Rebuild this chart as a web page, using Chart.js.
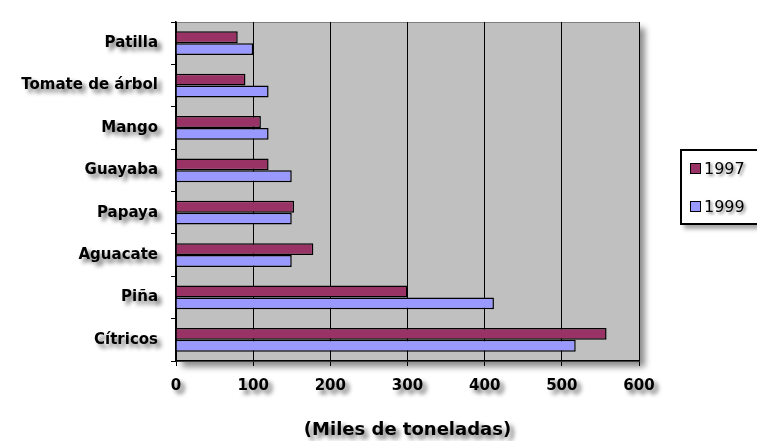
<!DOCTYPE html>
<html>
<head>
<meta charset="utf-8">
<script src="https://cdn.jsdelivr.net/npm/chart.js@4/dist/chart.umd.min.js"></script>
<style>
  body { margin: 0; background: #fff; }
  #wrap { position: relative; width: 757px; height: 441px; }
  #legend {
    position: absolute; left: 680px; top: 149px; width: 90px; height: 72px;
    border: 2px solid #000; border-right: none; background: #fff;
    box-shadow: 4px 4px 4px rgba(0,0,0,0.35);
    font: 16px "DejaVu Sans", sans-serif;
  }
  .item { position: absolute; left: 8px; display: flex; align-items: center;
    text-shadow: 2px 2px 3px rgba(0,0,0,0.45); }
  .sw { width: 9px; height: 9px; border: 1px solid #000; margin-right: 3px; }
</style>
</head>
<body>
<div id="wrap">
  <canvas id="chart" width="757" height="441"></canvas>
  <div id="legend"></div>
</div>
<script>
// data
const categories = ["Patilla", "Tomate de árbol", "Mango", "Guayaba", "Papaya", "Aguacate", "Piña", "Cítricos"];
const values1997 = [80, 90, 110, 120, 153, 178, 300, 558];
const values1999 = [100, 120, 120, 150, 150, 150, 412, 518];
const seriesNames = ["1997", "1999"];
const xTicks = [0, 100, 200, 300, 400, 500, 600];

const colors = ["#993366", "#9999FF"];

// legend
const legend = document.getElementById("legend");
seriesNames.forEach((name, i) => {
  const div = document.createElement("div");
  div.className = "item";
  div.style.top = (i === 0 ? 8 : 46) + "px";
  div.innerHTML = `<span class="sw" style="background:${colors[i]}"></span>${name}`;
  legend.appendChild(div);
});

// gray plot area with drop shadow, plus shadowed text
const plotBg = {
  id: "plotBg",
  beforeDraw(chart) {
    const { ctx, chartArea: a } = chart;
    ctx.save();
    ctx.fillStyle = "rgba(0,0,0,0.45)";
    ctx.filter = "blur(3px)";
    ctx.fillRect(a.left + 6, a.top + 6, a.right - a.left, a.bottom - a.top);
    ctx.filter = "none";
    ctx.fillStyle = "#C0C0C0";
    ctx.fillRect(a.left, a.top, a.right - a.left, a.bottom - a.top);
    ctx.strokeStyle = "#808080";
    ctx.lineWidth = 1;
    ctx.strokeRect(a.left + 0.5, a.top + 0.5, a.right - a.left, a.bottom - a.top);
    ctx.restore();
  },
  afterLayout(chart) {
    Object.values(chart.scales).forEach(s => {
      if (s._shadowed) return;
      s._shadowed = true;
      ["drawLabels", "drawTitle"].forEach(fn => {
        const orig = s[fn].bind(s);
        s[fn] = function (area) {
          const ctx = chart.ctx;
          ctx.save();
          ctx.shadowColor = "rgba(0,0,0,0.55)";
          ctx.shadowBlur = 4;
          ctx.shadowOffsetX = 4;
          ctx.shadowOffsetY = 4;
          orig(area);
          ctx.restore();
        };
      });
    });
  }
};

const font = { family: "'DejaVu Sans', sans-serif", size: 15, weight: "bold" };
const titleFont = { family: "'DejaVu Sans', sans-serif", size: 18, weight: "bold" };

new Chart(document.getElementById("chart"), {
  type: "bar",
  data: {
    labels: categories,
    datasets: [
      { label: seriesNames[0], data: values1997, backgroundColor: colors[0] },
      { label: seriesNames[1], data: values1999, backgroundColor: colors[1] }
    ]
  },
  options: {
    indexAxis: "y",
    responsive: false,
    animation: false,
    layout: { padding: { left: 0, right: 118, top: 13, bottom: 0 } },
    datasets: {
      bar: { borderColor: "#000", borderWidth: 1.5, categoryPercentage: 0.56, barPercentage: 1 }
    },
    plugins: { legend: { display: false }, tooltip: { enabled: false } },
    scales: {
      x: {
        min: 0, max: 600,
        afterBuildTicks: s => { s.ticks = xTicks.map(v => ({ value: v })); },
        afterFit: s => { s.height = 80; },
        grid: { color: "#000", lineWidth: 1, tickLength: 5, drawOnChartArea: true },
        border: { color: "#000", width: 1.5 },
        ticks: { color: "#000", font: font, padding: 11, maxRotation: 0 },
        title: { display: true, text: "(Miles de toneladas)", color: "#000", font: titleFont, padding: { top: 0, bottom: 0 } }
      },
      y: {
        afterFit: s => { s.width = 176; },
        grid: { color: "#000", tickLength: 5, drawOnChartArea: false, offset: true },
        border: { color: "#000", width: 1.5 },
        ticks: { color: "#000", font: font, padding: 13 }
      }
    }
  },
  plugins: [plotBg]
});
</script>
</body>
</html>
